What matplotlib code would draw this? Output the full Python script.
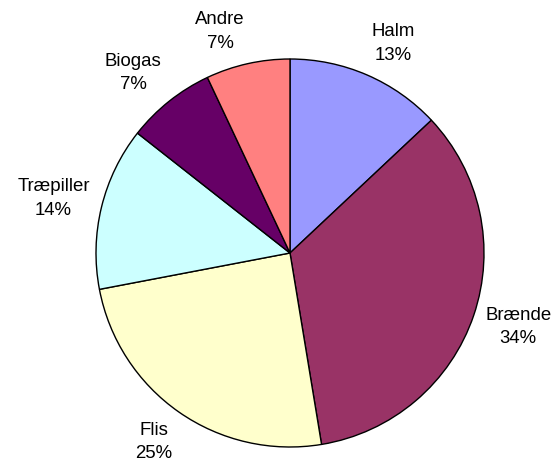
import matplotlib
matplotlib.use("Agg")
import numpy as np
import matplotlib.pyplot as plt

plt.rcParams['font.family'] = ['Liberation Sans', 'DejaVu Sans']

# andele i procent, med uret fra toppen
names = ["Halm", "Brænde", "Flis", "Træpiller", "Biogas", "Andre"]
shares = [13.0, 34.4, 24.6, 13.6, 7.4, 7.0]
colors = ["#9999FF", "#993366", "#FFFFCC", "#CCFFFF", "#660066", "#FF8080"]

labels = [f"{n}\n{v:.0f}%" for n, v in zip(names, shares)]

fig = plt.figure(figsize=(5.53, 4.69), dpi=100)
ax = fig.add_axes([0, 0, 1, 1])

wedges, _ = ax.pie(shares, colors=colors, startangle=90, counterclock=False,
                   wedgeprops=dict(edgecolor="black", linewidth=1.0))

# pie centre at (290, 253) px, radius 194 px
r = 194.0
ax.set_xlim(-290 / r, (553 - 290) / r)
ax.set_ylim(-(469 - 253) / r, 253 / r)
ax.set_aspect("equal")
ax.axis("off")

# excel-style labels: box sits just outside the wedge midpoint
fig.canvas.draw()
renderer = fig.canvas.get_renderer()
rr = 1 + 12 / r
for w, lab in zip(wedges, labels):
    ang = np.deg2rad((w.theta1 + w.theta2) / 2)
    x, y = np.cos(ang), np.sin(ang)
    t = ax.annotate(lab, xy=(rr * x, rr * y), xytext=(0, 0),
                    textcoords="offset pixels",
                    ha="left" if x > 0 else "right", va="center",
                    multialignment="center", fontsize=13.4, linespacing=1.5)
    h = t.get_window_extent(renderer).height
    t.xyann = (0, np.clip(1.2 * y, -1, 1) * h / 2)

plt.savefig("out.png", dpi=100)
